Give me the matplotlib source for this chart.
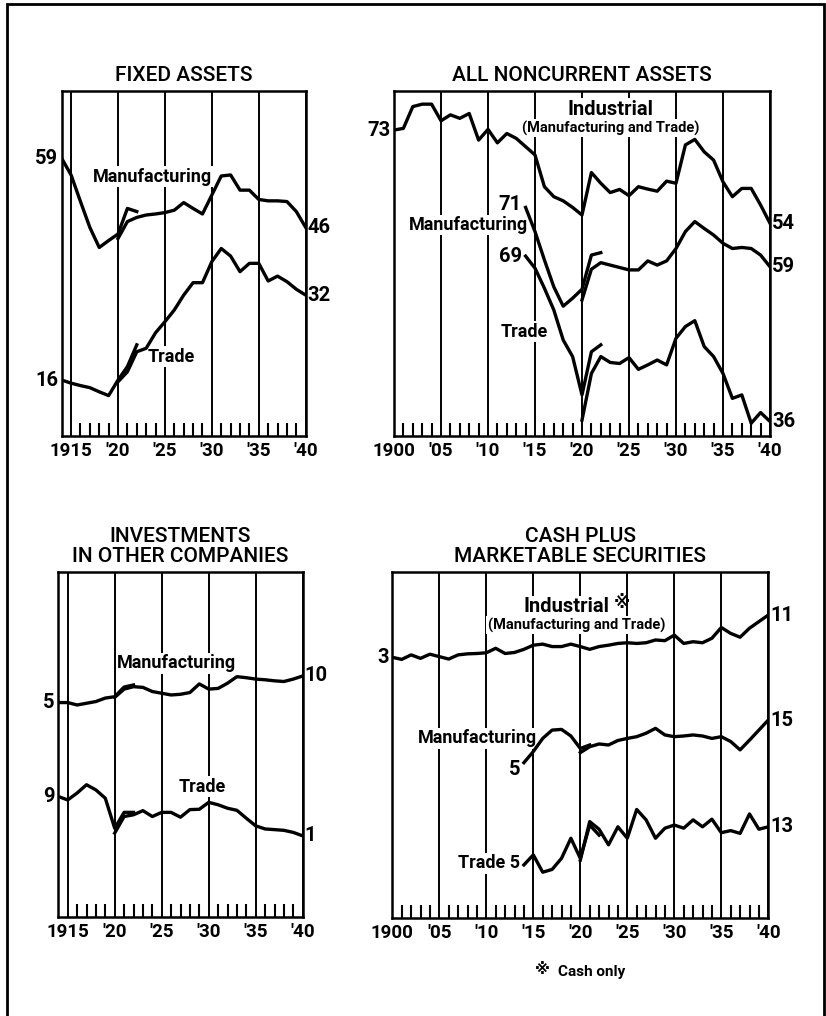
import matplotlib
matplotlib.use('Agg')
import matplotlib.pyplot as plt
from matplotlib.patches import Rectangle
import numpy as np

# No y scale on the original chart: values are the level of each curve
# 0 = bottom of the panel, 100 = top.
yrs_1900_1940 = np.arange(1900, 1941)
yrs_1914_1922 = np.arange(1914, 1923)
yrs_1914_1921 = np.arange(1914, 1922)
yrs_1920_1940 = np.arange(1920, 1941)

# FIXED ASSETS (old series to 1922, new series from 1920)
fixed_mfg_old = [80.4, 75.6, 67.9, 60.4, 54.6, 56.6, 58.5, 65.9, 65.0]
fixed_mfg_new = [57.2, 62.1, 63.3, 64.0, 64.3, 64.7, 65.4, 67.6, 65.9, 64.3, 69.8,
                 75.3, 75.6, 71.2, 71.2, 68.5, 68.1, 68.1, 67.9, 65.0, 60.4]
fixed_trade_old = [16.2, 15.3, 14.6, 14.0, 12.8, 11.7, 16.2, 20.1, 26.4]
fixed_trade_new = [15.7, 18.6, 24.4, 25.4, 29.9, 33.1, 36.5, 40.8, 44.4, 44.4, 50.5,
                   54.3, 52.1, 47.6, 50.0, 50.0, 44.9, 46.3, 44.7, 42.5, 40.8]

# ALL NONCURRENT ASSETS
nonc_ind = [88.6, 89.1, 95.4, 96.1, 96.1, 91.3, 93.0, 92.0, 93.4, 85.7, 88.8,
            84.9, 87.6, 86.2, 83.8, 81.4, 72.2, 69.3, 68.1, 66.2, 64.0,
            76.3, 73.2, 70.5, 71.4, 69.6, 72.2, 71.5, 70.9, 73.8, 73.2,
            84.3, 85.9, 82.3, 79.9, 73.6, 69.3, 71.7, 71.7, 66.9, 61.6]
nonc_mfg_old = [66.2, 59.2, 51.0, 43.2, 37.6, 39.9, 42.5, 52.4, 53.1]
nonc_mfg_new = [39.4, 48.3, 50.2, 49.5, 48.8, 48.1, 48.1, 50.7, 49.5, 50.7, 54.3,
                59.2, 62.1, 60.1, 58.2, 55.8, 54.3, 54.6, 54.3, 52.4, 49.0]
nonc_trade_old = [52.1, 48.6, 42.8, 36.5, 27.8, 23.0, 11.9, 24.4, 26.4]
nonc_trade_new = [4.6, 18.1, 23.0, 21.3, 21.0, 22.7, 19.3, 20.6, 22.0, 20.6, 28.3,
                  31.7, 33.4, 25.9, 23.0, 18.1, 10.9, 11.9, 3.7, 6.8, 4.2]

# INVESTMENTS IN OTHER COMPANIES
inv_mfg_old = [62.1, 62.1, 61.4, 61.9, 62.4, 63.4, 63.8, 66.6, 67.2]
inv_mfg_new = [63.6, 66.0, 66.7, 66.5, 65.3, 64.8, 64.3, 64.5, 65.0, 67.5, 66.0,
               66.2, 67.7, 69.6, 69.3, 68.9, 68.7, 68.4, 68.2, 68.9, 69.8]
inv_trade_old = [34.9, 33.9, 35.9, 38.3, 36.8, 34.4, 25.7, 30.3, 30.3]
inv_trade_new = [24.3, 29.1, 29.6, 30.8, 29.1, 30.3, 30.3, 28.9, 31.1, 31.2, 33.2,
                 32.5, 31.5, 30.9, 28.6, 26.4, 25.5, 25.3, 25.1, 24.5, 23.5]

# CASH PLUS MARKETABLE SECURITIES
cash_ind = [75.3, 74.7, 76.0, 75.0, 76.2, 75.5, 74.8, 76.0, 76.3, 76.4, 76.6,
            77.9, 76.4, 76.7, 77.6, 78.8, 79.1, 78.4, 78.4, 79.1, 78.4,
            77.6, 78.4, 78.8, 79.3, 79.5, 79.3, 79.5, 80.3, 80.1, 81.7,
            79.3, 79.8, 79.5, 80.8, 83.9, 82.2, 81.1, 83.7, 85.6, 87.5]
cash_mfg_old = [44.9, 48.1, 51.9, 54.3, 54.5, 52.6, 49.0, 50.0]
cash_mfg_new = [47.8, 49.5, 50.3, 50.0, 51.3, 51.9, 52.4, 53.4, 54.8, 52.9, 52.4,
                52.6, 52.9, 52.6, 51.9, 52.4, 51.0, 48.6, 51.4, 54.3, 57.2]
cash_trade_old = [15.4, 18.3, 13.3, 14.1, 17.3, 23.1, 17.3, 26.9, 24.0]
cash_trade_new = [16.8, 27.9, 25.7, 21.2, 26.4, 23.1, 31.4, 28.4, 23.1, 26.0, 26.9,
                  26.0, 28.4, 26.4, 28.6, 24.7, 25.3, 24.5, 30.1, 25.7, 26.4]

short_ticks = [1915, 1920, 1925, 1930, 1935, 1940]
short_labels = ['1915', "'20", "'25", "'30", "'35", "'40"]
long_ticks = [1900, 1905, 1910, 1915, 1920, 1925, 1930, 1935, 1940]
long_labels = ['1900', "'05", "'10", "'15", "'20", "'25", "'30", "'35", "'40"]

plt.rcParams['font.family'] = ['Roboto', 'DejaVu Sans']
plt.rcParams['font.weight'] = 'bold'

W, H = 826, 1016
lbl_fnt = 13
num_fnt = 14.5
tick_fnt = 13.5
lwdth = 2.4
MARK = '\u203b'

fig = plt.figure(figsize=(W / 100, H / 100), dpi=100)


def make_panel(left, top, right, bottom, x0, x1, ticks, ticklabels, title):
    ax = fig.add_axes([left / W, 1 - bottom / H, (right - left) / W, (bottom - top) / H])
    ax.set_xlim(x0, x1)
    ax.set_ylim(0, 100)
    ax.set_yticks([])
    ax.set_xticks(ticks)
    ax.set_xticklabels(ticklabels, fontsize=tick_fnt)
    ax.set_xticks([y for y in range(x0 + 1, x1) if y % 5], minor=True)
    ax.tick_params(which='major', length=0, pad=4)
    ax.tick_params(which='minor', direction='in', length=9.5, width=1.5, color='black')
    ax.grid(axis='x', which='major', color='black', linewidth=1.4)
    ax.set_axisbelow(True)
    for s in ax.spines.values():
        s.set_linewidth(1.8)
    ax.set_title(title, fontsize=15, fontweight='medium', linespacing=1.05, pad=7)
    return ax


def curve(ax, x, y):
    ax.plot(x, y, color='black', linewidth=lwdth, solid_joinstyle='round', zorder=4)


def label(ax, x, y, s, size=lbl_fnt, ha='center', box=True, family=None):
    bb = dict(facecolor='white', edgecolor='none', pad=1) if box else None
    ax.text(x, y, s, ha=ha, va='center', fontsize=size, zorder=3, clip_on=False,
            bbox=bb, family=family)


# ---- FIXED ASSETS
ax = make_panel(61.7, 90.7, 305.7, 436, 1914, 1940, short_ticks, short_labels, 'FIXED ASSETS')
curve(ax, yrs_1914_1922, fixed_mfg_old)
curve(ax, yrs_1920_1940, fixed_mfg_new)
curve(ax, yrs_1914_1922, fixed_trade_old)
curve(ax, yrs_1920_1940, fixed_trade_new)
label(ax, 1913.6, fixed_mfg_old[0], '59', num_fnt, 'right', False)
label(ax, 1913.6, fixed_trade_old[0], '16', num_fnt, 'right', False)
label(ax, 1940.2, fixed_mfg_new[-1], '46', num_fnt, 'left', False)
label(ax, 1940.2, fixed_trade_new[-1], '32', num_fnt, 'left', False)
label(ax, 1923.7, 75.1, 'Manufacturing')
label(ax, 1925.7, 22.9, 'Trade')

# ---- ALL NONCURRENT ASSETS
ax = make_panel(394, 90.7, 770, 436, 1900, 1940, long_ticks, long_labels, 'ALL NONCURRENT ASSETS')
curve(ax, yrs_1900_1940, nonc_ind)
curve(ax, yrs_1914_1922, nonc_mfg_old)
curve(ax, yrs_1920_1940, nonc_mfg_new)
curve(ax, yrs_1914_1922, nonc_trade_old)
curve(ax, yrs_1920_1940, nonc_trade_new)
label(ax, 1899.6, nonc_ind[0], '73', num_fnt, 'right', False)
label(ax, 1940.2, nonc_ind[-1], '54', num_fnt, 'left', False)
label(ax, 1940.2, nonc_mfg_new[-1], '59', num_fnt, 'left', False)
label(ax, 1940.2, nonc_trade_new[-1], '36', num_fnt, 'left', False)
label(ax, 1913.6, nonc_mfg_old[0] + 0.7, '71', num_fnt, 'right')
label(ax, 1913.6, nonc_trade_old[0], '69', num_fnt, 'right')
label(ax, 1914.3, 61.1, 'Manufacturing', ha='right')
label(ax, 1913.9, 30.2, 'Trade')
label(ax, 1923.0, 94.6, 'Industrial', size=14.5)
label(ax, 1923.0, 89.1, '(Manufacturing and Trade)', size=10.5)

# ---- INVESTMENTS IN OTHER COMPANIES
ax = make_panel(58.3, 571.7, 302.7, 917, 1914, 1940, short_ticks, short_labels,
                'INVESTMENTS\nIN OTHER COMPANIES')
curve(ax, yrs_1914_1922, inv_mfg_old)
curve(ax, yrs_1920_1940, inv_mfg_new)
curve(ax, yrs_1914_1922, inv_trade_old)
curve(ax, yrs_1920_1940, inv_trade_new)
label(ax, 1913.6, inv_mfg_old[0], '5', num_fnt, 'right', False)
label(ax, 1913.6, inv_trade_old[0], '9', num_fnt, 'right', False)
label(ax, 1940.2, inv_mfg_new[-1], '10', num_fnt, 'left', False)
label(ax, 1940.2, inv_trade_new[-1], '1', num_fnt, 'left', False)
label(ax, 1926.6, 73.5, 'Manufacturing')
label(ax, 1929.3, 37.7, 'Trade')

# ---- CASH PLUS MARKETABLE SECURITIES
ax = make_panel(392.3, 571.7, 768.3, 918.3, 1900, 1940, long_ticks, long_labels,
                'CASH PLUS\nMARKETABLE SECURITIES')
curve(ax, yrs_1900_1940, cash_ind)
curve(ax, yrs_1914_1921, cash_mfg_old)
curve(ax, yrs_1920_1940, cash_mfg_new)
curve(ax, yrs_1914_1922, cash_trade_old)
curve(ax, yrs_1920_1940, cash_trade_new)
label(ax, 1899.7, cash_ind[0], '3', num_fnt, 'right', False)
label(ax, 1940.2, cash_ind[-1], '11', num_fnt, 'left', False)
label(ax, 1940.2, cash_mfg_new[-1], '15', num_fnt, 'left', False)
label(ax, 1940.2, cash_trade_new[-1], '13', num_fnt, 'left', False)
label(ax, 1915.4, 51.9, 'Manufacturing', ha='right')
label(ax, 1913.6, 42.8, '5', num_fnt, 'right')
label(ax, 1913.6, 15.9, 'Trade 5', ha='right')
label(ax, 1918.55, 89.9, 'Industrial', size=14.5)
label(ax, 1924.4, 91.0, MARK, size=12, box=False, family=['DejaVu Sans'])
label(ax, 1919.6, 84.6, '(Manufacturing and Trade)', size=10.5)
fig.text(542 / W, 1 - 970 / H, MARK, ha='center', va='center', fontsize=11,
         family=['DejaVu Sans'])
fig.text(558 / W, 1 - 971.7 / H, 'Cash only', ha='left', va='center', fontsize=11)

# outer frame of the plate
fig.patches.append(Rectangle((7 / W, -0.01), (824 - 7) / W, 1 - 4 / H + 0.01,
                             transform=fig.transFigure, fill=False,
                             edgecolor='black', linewidth=2))

fig.savefig('out.png', dpi=100)
plt.close(fig)
